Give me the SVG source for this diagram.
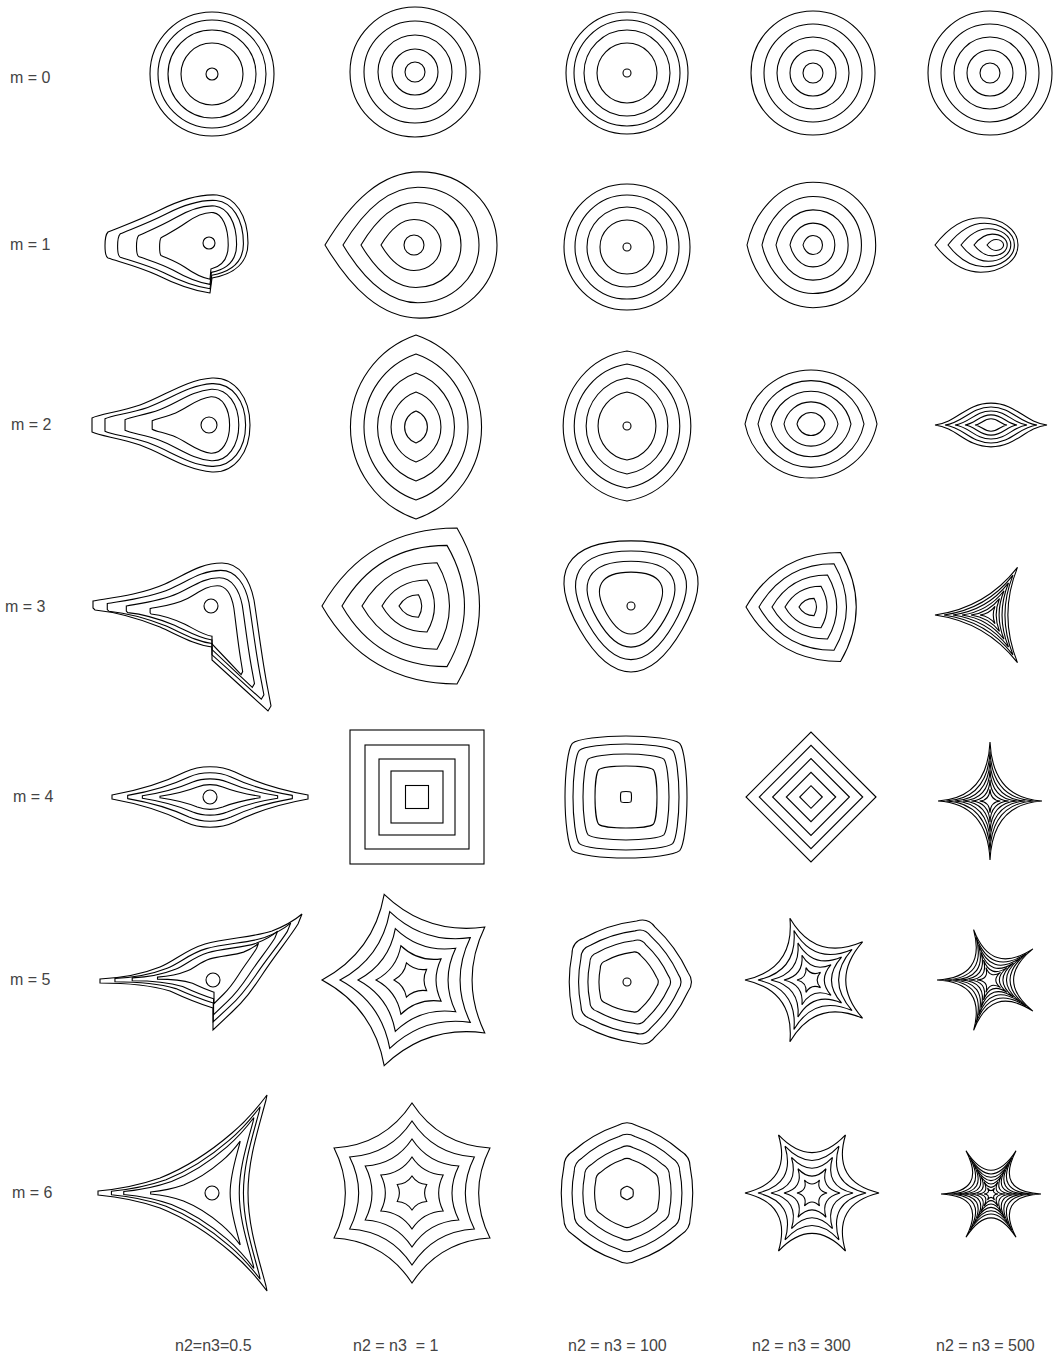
<svg xmlns="http://www.w3.org/2000/svg" width="1061" height="1359" viewBox="0 0 1061 1359">
<style>
.k{fill:none;stroke:#000;stroke-width:1.1;vector-effect:non-scaling-stroke}
.c circle,.c rect,.c polygon{fill:none;stroke:#000;stroke-width:1.1}
text{font-family:"Liberation Sans",Arial,sans-serif;font-size:16px;fill:#444;white-space:pre}
</style>
<defs>
<path id="lensA" class="k" d="M-100,0 A105.8,105.8 0 0 1 100,0 A105.8,105.8 0 0 1 -100,0Z"/>
<path id="lensB" class="k" d="M-100,0 A102,102 0 0 1 100,0 A102,102 0 0 1 -100,0Z"/>
<path id="lensC" class="k" d="M-100,0 A101.3,101.3 0 0 1 100,0 A101.3,101.3 0 0 1 -100,0Z"/>
<path id="lensF" class="k" d="M-100,0 C-60,-5 -45,-39 0,-39 C45,-39 60,-5 100,0 C60,5 45,39 0,39 C-45,39 -60,5 -100,0Z"/>
<path id="drop" class="k" d="M-100,0 C-70,-50 -35,-85 10,-85 C60,-85 100,-48 100,0 C100,48 60,85 10,85 C-35,85 -70,50 -100,0Z"/>
<path id="dropS" class="k" d="M-100,0 C-90,-45 -55,-95 0,-95 C55,-95 95,-55 95,0 C95,55 55,95 0,95 C-55,95 -90,45 -100,0Z"/>
<path id="triV" class="k" d="M-100,0 Q-50,-86.6 50,-86.6 Q100,0 50,86.6 Q-50,86.6 -100,0Z"/>
<path id="triC" class="k" d="M-100,0 Q-7.5,-13 50,-86.6 Q15,0 50,86.6 Q-7.5,13 -100,0Z"/>
<path id="triR" class="k" d="M0,-68 C75,-68 96.4,-31 58.9,34 C21.4,99 -21.4,99 -58.9,34 C-96.4,-31 -75,-68 0,-68Z"/>
<path id="rsq" class="k" d="M0,-100 C40,-100 80,-95 88,-88 C95,-80 100,-40 100,0 C100,40 95,80 88,88 C80,95 40,100 0,100 C-40,100 -80,95 -88,88 C-95,80 -100,40 -100,0 C-100,-40 -95,-80 -88,-88 C-80,-95 -40,-100 0,-100Z"/>
<path id="ast4" class="k" d="M100,0 Q5,-5 0,-100 Q-5,-5 -100,0 Q-5,5 0,100 Q5,5 100,0Z"/>
<path id="star5a" class="k" d="M-100,0 Q-42.5,-30.9 -30.9,-95.1 Q16.25,-50 80.9,-58.8 Q52.6,0 80.9,58.8 Q16.25,50 -30.9,95.1 Q-42.5,30.9 -100,0Z"/>
<path id="star5b" class="k" d="M-100,0 Q-23.6,-17.1 -30.9,-95.1 Q9,-27.7 80.9,-58.8 Q29.1,0 80.9,58.8 Q9,27.7 -30.9,95.1 Q-23.6,17.1 -100,0Z"/>
<path id="star5c" class="k" d="M-100,0 Q-6.5,-4.8 -30.9,-95.1 Q2.5,-7.7 80.9,-58.8 Q8.1,0 80.9,58.8 Q2.5,7.7 -30.9,95.1 Q-6.5,4.8 -100,0Z"/>
<path id="pentR" class="k" d="M89.6,-14.3 Q72,-52.3 41.3,-80.8 Q30.9,-95.1 14.1,-89.7 Q-27.5,-84.6 -64.1,-64.3 Q-80.9,-58.8 -80.9,-41.2 Q-89,0 -80.9,41.2 Q-80.9,58.8 -64.1,64.3 Q-27.5,84.6 14.1,89.7 Q30.9,95.1 41.3,80.8 Q72,52.3 89.6,14.3 Q100,0 89.6,-14.3Z"/>
<path id="star6a" class="k" d="M100,0 Q53.3,-30.7 50,-86.6 Q0,-61.5 -50,-86.6 Q-53.3,-30.7 -100,0 Q-53.3,30.7 -50,86.6 Q0,61.5 50,86.6 Q53.3,30.7 100,0Z"/>
<path id="star6b" class="k" d="M100,0 Q29.3,-16.9 50,-86.6 Q0,-33.8 -50,-86.6 Q-29.3,-16.9 -100,0 Q-29.3,16.9 -50,86.6 Q0,33.8 50,86.6 Q29.3,16.9 100,0Z"/>
<path id="star6c" class="k" d="M100,0 Q7.5,-4.3 50,-86.6 Q0,-8.7 -50,-86.6 Q-7.5,-4.3 -100,0 Q-7.5,4.3 -50,86.6 Q0,8.7 50,86.6 Q7.5,4.3 100,0Z"/>
<path id="hexR" class="k" d="M13,-92.5 Q46.8,-81 73.6,-57.5 Q86.6,-50 86.6,-35 Q93.5,0 86.6,35 Q86.6,50 73.6,57.5 Q46.8,81 13,92.5 Q0,100 -13,92.5 Q-46.8,81 -73.6,57.5 Q-86.6,50 -86.6,35 Q-93.5,0 -86.6,-35 Q-86.6,-50 -73.6,-57.5 Q-46.8,-81 -13,-92.5 Q0,-100 13,-92.5Z"/>
<path id="p11" class="k" d="M210,293 C195,291 175,284 157,275 C140,267 120,262 108,258 C104,256 104,236 108,232 C120,227 140,220 160,210 C180,200 200,194 217,195 C235,197 248,215 248,243 C248,262 235,274 212,278 Z"/>
<path id="p21" class="k" d="M92,432 L92,418 C100,414 120,412 140,405 C165,396 185,380 212,378 C235,377 250,398 250,425 C250,452 235,473 212,472 C185,470 165,454 140,445 C120,438 100,436 92,432 Z"/>
<path id="p31" class="k" d="M93,601 C110,598 140,595 165,584 C185,575 200,563 222,563 C240,563 250,580 254,600 C258,625 262,660 268,690 L271,706 L268,711 L245,690 L212,660 L212,647 C195,645 180,636 160,627 C135,617 115,612 95,610 L93,608 Z"/>
<path id="p41" class="k" d="M112,795 C140,790 165,782 185,772 C200,765 220,765 235,772 C255,782 280,790 308,795 L308,799 C280,804 255,812 235,822 C220,829 200,829 185,822 C165,812 140,804 112,799 Z"/>
<path id="p51" class="k" d="M100,979 C120,978 140,975 160,967 C175,961 185,950 205,944 C225,938 255,937 272,931 C285,926 295,920 302,914 L298,924 C288,940 275,955 262,975 C252,990 245,1000 232,1012 L213,1030 L213,1008 C200,1004 185,998 170,991 C150,985 125,983 100,983 Z"/>
<path id="p61" class="k" d="M98,1191 C120,1189 140,1185 160,1178 C185,1168 210,1152 232,1133 C245,1122 258,1107 267,1095 L266,1100 C258,1130 248,1160 248,1193 C248,1226 258,1256 266,1286 L267,1291 C258,1279 245,1264 232,1253 C210,1234 185,1218 160,1208 C140,1201 120,1197 98,1195 Z"/>
</defs>

<g id="labels">
<text x="10" y="83">m = 0</text>
<text x="10" y="250">m = 1</text>
<text x="11" y="430">m = 2</text>
<text x="5" y="612">m = 3</text>
<text x="13" y="802">m = 4</text>
<text x="10" y="985">m = 5</text>
<text x="12" y="1198">m = 6</text>
<text x="175" y="1351">n2=n3=0.5</text>
<text x="353" y="1351">n2 = n3  = 1</text>
<text x="568" y="1351">n2 = n3 = 100</text>
<text x="752" y="1351">n2 = n3 = 300</text>
<text x="936" y="1351">n2 = n3 = 500</text>
</g>

<!-- row 0 -->
<g id="r0c1" class="c" transform="translate(212,74)"><circle r="62"/><circle r="54"/><circle r="44"/><circle r="31"/><circle r="6"/></g>
<g id="r0c2" class="c" transform="translate(415,72)"><circle r="65"/><circle r="51"/><circle r="37"/><circle r="23"/><circle r="10"/></g>
<g id="r0c3" class="c" transform="translate(627,73)"><circle r="61"/><circle r="53"/><circle r="43"/><circle r="30"/><circle r="4"/></g>
<g id="r0c4" class="c" transform="translate(813,73)"><circle r="62"/><circle r="49"/><circle r="36"/><circle r="23"/><circle r="10"/></g>
<g id="r0c5" class="c" transform="translate(990,73)"><circle r="62"/><circle r="49"/><circle r="36"/><circle r="23"/><circle r="10"/></g>

<!-- row 1 -->
<g id="r1c1" class="c">
<use href="#p11"/>
<use href="#p11" transform="translate(210,250) scale(.88,.9) translate(-210,-250)"/>
<use href="#p11" transform="translate(210,250) scale(.7,.8) translate(-210,-250)"/>
<use href="#p11" transform="translate(210,250) scale(.48,.68) translate(-210,-250)"/>
<circle cx="209" cy="243" r="6"/>
</g>
<g id="r1c2" class="c" transform="translate(411,245)">
<use href="#drop" transform="scale(.86)"/><use href="#drop" transform="scale(.68)"/><use href="#drop" transform="scale(.5)"/><use href="#drop" transform="scale(.3)"/><circle cx="3" r="10"/>
</g>
<g id="r1c3" class="c" transform="translate(627,247)"><circle r="63"/><circle r="52"/><circle r="40"/><circle r="27"/><circle r="4"/></g>
<g id="r1c4" class="c" transform="translate(813,245)">
<use href="#dropS" transform="scale(.66)"/><use href="#dropS" transform="scale(.51)"/><use href="#dropS" transform="scale(.37)"/><use href="#dropS" transform="scale(.23)"/><use href="#dropS" transform="scale(.1)"/>
</g>
<g id="r1c5" class="c" transform="translate(1000,245)">
<use href="#drop" transform="translate(-23.5,0) scale(.415,.32)"/>
<use href="#drop" transform="scale(.8) translate(-23.5,0) scale(.415,.32)"/>
<use href="#drop" transform="scale(.6) translate(-23.5,0) scale(.415,.32)"/>
<use href="#drop" transform="scale(.4) translate(-23.5,0) scale(.415,.32)"/>
<use href="#drop" transform="scale(.2) translate(-23.5,0) scale(.415,.32)"/>
</g>

<!-- row 2 -->
<g id="r2c1" class="c">
<use href="#p21"/>
<use href="#p21" transform="translate(210,425) scale(.89,.88) translate(-210,-425)"/>
<use href="#p21" transform="translate(210,425) scale(.72,.76) translate(-210,-425)"/>
<use href="#p21" transform="translate(210,425) scale(.49,.6) translate(-210,-425)"/>
<circle cx="209" cy="425" r="8"/>
</g>
<g id="r2c2" class="c" transform="translate(416,427) rotate(90)">
<use href="#lensA" transform="scale(.92)"/><use href="#lensA" transform="scale(.73)"/><use href="#lensA" transform="scale(.54)"/><use href="#lensA" transform="scale(.35)"/><use href="#lensA" transform="scale(.16)"/>
</g>
<g id="r2c3" class="c" transform="translate(627,426)">
<g transform="rotate(90)"><use href="#lensC" transform="scale(.75)"/><use href="#lensC" transform="scale(.62)"/><use href="#lensC" transform="scale(.48)"/><use href="#lensC" transform="scale(.34)"/></g><circle r="4"/>
</g>
<g id="r2c4" class="c" transform="translate(811,424)">
<use href="#lensB" transform="scale(.66)"/><use href="#lensB" transform="scale(.53)"/><use href="#lensB" transform="scale(.4)"/><use href="#lensB" transform="scale(.27)"/><use href="#lensB" transform="scale(.14)"/>
</g>
<g id="r2c5" class="c" transform="translate(991,425)">
<use href="#lensF" transform="scale(.56)"/><use href="#lensF" transform="scale(.46)"/><use href="#lensF" transform="scale(.36)"/><use href="#lensF" transform="scale(.26)"/><use href="#lensF" transform="scale(.16)"/>
</g>

<!-- row 3 -->
<g id="r3c1" class="c">
<use href="#p31"/>
<use href="#p31" transform="translate(212,620) scale(.88,.87) translate(-212,-620)"/>
<use href="#p31" transform="translate(212,620) scale(.72,.74) translate(-212,-620)"/>
<use href="#p31" transform="translate(212,620) scale(.52,.6) translate(-212,-620)"/>
<circle cx="211" cy="606" r="7"/>
</g>
<g id="r3c2" class="c" transform="translate(412,606)">
<use href="#triV" transform="scale(.9)"/><use href="#triV" transform="scale(.7)"/><use href="#triV" transform="scale(.5)"/><use href="#triV" transform="scale(.3)"/><use href="#triV" transform="scale(.13)"/>
</g>
<g id="r3c3" class="c" transform="translate(631,600)">
<use href="#triR" transform="scale(.87)"/><use href="#triR" transform="scale(.72)"/><use href="#triR" transform="scale(.57)"/><use href="#triR" transform="scale(.41)"/><circle cy="6" r="4"/>
</g>
<g id="r3c4" class="c" transform="translate(809,607)">
<use href="#triV" transform="scale(.63)"/><use href="#triV" transform="scale(.5)"/><use href="#triV" transform="scale(.37)"/><use href="#triV" transform="scale(.24)"/><use href="#triV" transform="scale(.1)"/>
</g>
<g id="r3c5" class="c" transform="translate(990,615)">
<use href="#triC" transform="scale(.55)"/><use href="#triC" transform="scale(.46)"/><use href="#triC" transform="scale(.37)"/><use href="#triC" transform="scale(.28)"/><use href="#triC" transform="scale(.19)"/><use href="#triC" transform="scale(.1)"/>
</g>

<!-- row 4 -->
<g id="r4c1" class="c">
<use href="#p41"/>
<use href="#p41" transform="translate(210,797) scale(.84,.8) translate(-210,-797)"/>
<use href="#p41" transform="translate(210,797) scale(.69,.6) translate(-210,-797)"/>
<use href="#p41" transform="translate(210,797) scale(.51,.4) translate(-210,-797)"/>
<circle cx="210" cy="797" r="7"/>
</g>
<g id="r4c2" class="c" transform="translate(417,797)">
<rect x="-67" y="-67" width="134" height="134"/><rect x="-52" y="-52" width="104" height="104"/><rect x="-38" y="-38" width="76" height="76"/><rect x="-26" y="-26" width="52" height="52"/><rect x="-11.5" y="-11.5" width="23" height="23"/>
</g>
<g id="r4c3" class="c" transform="translate(626,797)">
<use href="#rsq" transform="scale(.61)"/><use href="#rsq" transform="scale(.53)"/><use href="#rsq" transform="scale(.43)"/><use href="#rsq" transform="scale(.31)"/><use href="#rsq" transform="scale(.055)"/>
</g>
<g id="r4c4" class="c" transform="translate(811,797)">
<polygon points="65,0 0,-65 -65,0 0,65"/><polygon points="51.7,0 0,-51.7 -51.7,0 0,51.7"/><polygon points="38.4,0 0,-38.4 -38.4,0 0,38.4"/><polygon points="24.7,0 0,-24.7 -24.7,0 0,24.7"/><polygon points="11.3,0 0,-11.3 -11.3,0 0,11.3"/>
</g>
<g id="r4c5" class="c" transform="translate(990,801) scale(.52,.59)">
<use href="#ast4"/><use href="#ast4" transform="scale(.84)"/><use href="#ast4" transform="scale(.68)"/><use href="#ast4" transform="scale(.52)"/><use href="#ast4" transform="scale(.36)"/><use href="#ast4" transform="scale(.2)"/>
</g>

<!-- row 5 -->
<g id="r5c1" class="c">
<use href="#p51"/>
<use href="#p51" transform="translate(215,975) scale(.87,.85) translate(-215,-975)"/>
<use href="#p51" transform="translate(215,975) scale(.72,.72) translate(-215,-975)"/>
<use href="#p51" transform="translate(215,975) scale(.5,.52) translate(-215,-975)"/>
<circle cx="213" cy="980" r="7"/>
</g>
<g id="r5c2" class="c" transform="translate(412,980)">
<use href="#star5a" transform="scale(.9)"/><use href="#star5a" transform="scale(.72)"/><use href="#star5a" transform="scale(.54)"/><use href="#star5a" transform="scale(.36)"/><use href="#star5a" transform="scale(.18)"/>
</g>
<g id="r5c3" class="c" transform="translate(627,982)">
<use href="#pentR" transform="scale(.68)"/><use href="#pentR" transform="scale(.57)"/><use href="#pentR" transform="scale(.46)"/><use href="#pentR" transform="scale(.33)"/><circle r="4"/>
</g>
<g id="r5c4" class="c" transform="translate(810,980)">
<use href="#star5b" transform="scale(.65)"/><use href="#star5b" transform="scale(.52)"/><use href="#star5b" transform="scale(.39)"/><use href="#star5b" transform="scale(.26)"/><use href="#star5b" transform="scale(.13)"/>
</g>
<g id="r5c5" class="c" transform="translate(990,980)">
<use href="#star5c" transform="scale(.53)"/><use href="#star5c" transform="scale(.45)"/><use href="#star5c" transform="scale(.37)"/><use href="#star5c" transform="scale(.29)"/><use href="#star5c" transform="scale(.21)"/><use href="#star5c" transform="scale(.13)"/>
</g>

<!-- row 6 -->
<g id="r6c1" class="c">
<use href="#p61"/>
<use href="#p61" transform="translate(210,1193) scale(.88) translate(-210,-1193)"/>
<use href="#p61" transform="translate(210,1193) scale(.77) translate(-210,-1193)"/>
<use href="#p61" transform="translate(210,1193) scale(.53) translate(-210,-1193)"/>
<circle cx="212" cy="1193" r="7"/>
</g>
<g id="r6c2" class="c" transform="translate(412,1193) rotate(90)">
<use href="#star6a" transform="scale(.9)"/><use href="#star6a" transform="scale(.72)"/><use href="#star6a" transform="scale(.54)"/><use href="#star6a" transform="scale(.36)"/><use href="#star6a" transform="scale(.17)"/>
</g>
<g id="r6c3" class="c" transform="translate(627,1193)">
<use href="#hexR" transform="scale(.73)"/><use href="#hexR" transform="scale(.61)"/><use href="#hexR" transform="scale(.49)"/><use href="#hexR" transform="scale(.36)"/><use href="#hexR" transform="scale(.07)"/>
</g>
<g id="r6c4" class="c" transform="translate(812,1193)">
<use href="#star6b" transform="scale(.67)"/><use href="#star6b" transform="scale(.54)"/><use href="#star6b" transform="scale(.41)"/><use href="#star6b" transform="scale(.28)"/><use href="#star6b" transform="scale(.15)"/>
</g>
<g id="r6c5" class="c" transform="translate(991,1194)">
<use href="#star6c" transform="scale(.5)"/><use href="#star6c" transform="scale(.42)"/><use href="#star6c" transform="scale(.35)"/><use href="#star6c" transform="scale(.28)"/><use href="#star6c" transform="scale(.21)"/><use href="#star6c" transform="scale(.14)"/><use href="#star6c" transform="scale(.07)"/>
</g>
</svg>
